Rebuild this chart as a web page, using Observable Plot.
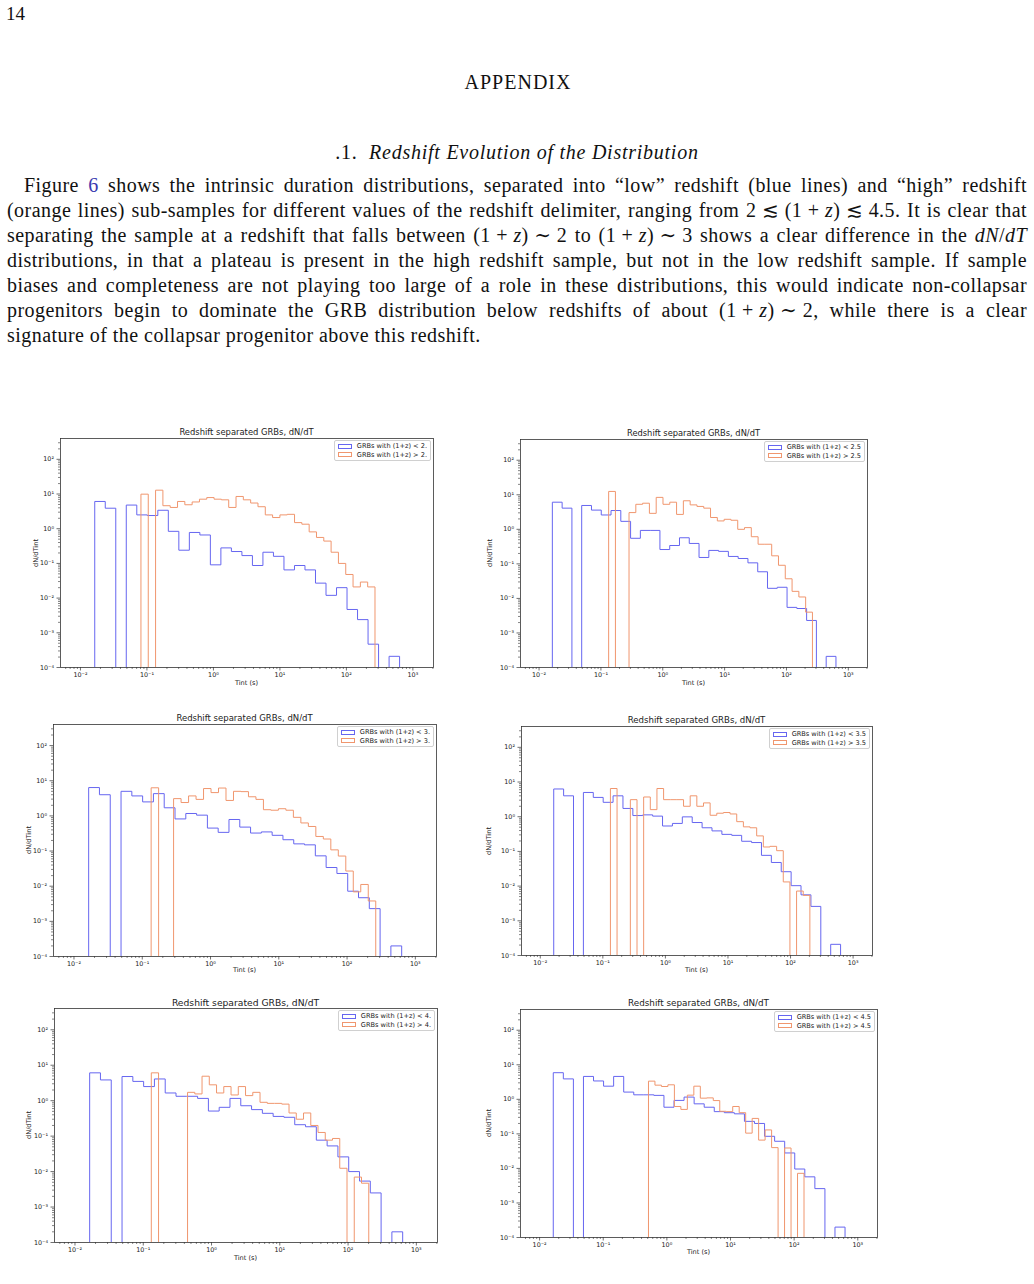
<!DOCTYPE html>
<html><head><meta charset="utf-8">
<script src="https://cdn.jsdelivr.net/npm/d3@7"></script>
<script src="https://cdn.jsdelivr.net/npm/@observablehq/plot@0.6"></script>
<style>
body{margin:0;background:#fff;}
#page{position:relative;width:1034px;height:1284px;overflow:hidden;font-family:"Liberation Serif","DejaVu Serif",serif;color:#111;background:#fff;}
.abs{position:absolute;white-space:nowrap;}
.line{position:absolute;left:7px;width:1020px;height:25px;line-height:25px;font-size:20px;letter-spacing:0.45px;text-align:justify;text-align-last:justify;}
.sans{font-family:"DejaVu Sans",sans-serif;color:#222;letter-spacing:0;}
.leg{position:absolute;background:#fff;border:1px solid #d0d0d0;border-radius:2px;font-family:"DejaVu Sans",sans-serif;color:#222;padding:1px 3px 1px 3px;}
.leg div{white-space:nowrap;display:flex;align-items:center;}
.patch{display:inline-block;width:12px;height:3px;margin-right:5px;}
</style>
</head><body><div id="page"></div>
<script>
// ---------------- data ----------------
const thresholds = ["2.", "2.5", "3.", "3.5", "4.", "4.5"];
const xTickValues = [1e-2, 1e-1, 1e0, 1e1, 1e2, 1e3];
const xTickLabels = ["10\u207B\u00B2", "10\u207B\u00B9", "10\u2070", "10\u00B9", "10\u00B2", "10\u00B3"];
const yTickValues = [1e-4, 1e-3, 1e-2, 1e-1, 1e0, 1e1, 1e2];
const yTickLabels = ["10\u207B\u2074", "10\u207B\u00B3", "10\u207B\u00B2", "10\u207B\u00B9", "10\u2070", "10\u00B9", "10\u00B2"];

// log10 bin range of the low-redshift (blue) histograms, 29 bins
const blueRange = [-1.785, 2.80];
const blue1 = [6.1, 3.9, 0, 4.8, 2.5, 2.4, 3.4, 0.84, 0.24, 0.78, 0.66, 0.091, 0.28, 0.22, 0.168, 0.087, 0.21, 0.16, 0.065, 0.087, 0.065, 0.027, 0.012, 0.020, 0.0047, 0.0024, 0.00047, 0, 0.00021];
const blue2 = [6.1, 4.1, 0, 4.9, 3.6, 2.6, 3.5, 1.7, 0.55, 0.93, 0.93, 0.26, 0.34, 0.57, 0.39, 0.153, 0.245, 0.23, 0.164, 0.143, 0.107, 0.059, 0.0196, 0.021, 0.0055, 0.0051, 0.0023, 0, 0.00021];
const blue3 = [6.4, 4.0, 0, 5.0, 3.7, 2.5, 4.3, 1.7, 0.82, 1.17, 1.05, 0.45, 0.34, 0.79, 0.48, 0.325, 0.35, 0.28, 0.21, 0.16, 0.15, 0.073, 0.034, 0.023, 0.0072, 0.0047, 0.0023, 0, 0.0002];
const blue4 = [6.3, 4.0, 0, 5.0, 3.6, 2.6, 4.0, 1.73, 1.08, 1.13, 1.04, 0.54, 0.64, 0.99, 0.68, 0.48, 0.39, 0.31, 0.29, 0.196, 0.18, 0.077, 0.048, 0.026, 0.0103, 0.0056, 0.0026, 0, 0.00021];
const blue5 = [6.1, 3.85, 0, 4.8, 3.5, 2.5, 4.1, 1.65, 1.33, 1.33, 1.16, 0.51, 0.65, 1.16, 0.72, 0.56, 0.44, 0.36, 0.34, 0.21, 0.184, 0.077, 0.053, 0.026, 0.010, 0.0054, 0.0025, 0, 0.0002];
const blue6 = [5.9, 3.9, 0, 4.6, 3.4, 2.4, 4.6, 1.62, 1.35, 1.35, 1.3, 0.59, 0.93, 1.16, 0.74, 0.59, 0.44, 0.41, 0.38, 0.23, 0.20, 0.085, 0.061, 0.028, 0.0096, 0.0057, 0.0026, 0, 0.0002];

// high-redshift (orange) histograms and their log10 bin ranges
const orange1 = [9.9, 0, 12.9, 4.6, 4.1, 6.1, 4.9, 5.9, 7.1, 7.9, 7.1, 6.8, 4.1, 8.5, 6.8, 5.5, 4.3, 2.5, 2.1, 2.5, 2.6, 1.5, 1.35, 0.81, 0.56, 0.44, 0.21, 0.10, 0.048, 0.021, 0.029, 0.021];
const orange1Range = [-1.09, 2.43];
const orange2 = [12.5, 0, 0, 3.05, 5.3, 5.7, 2.9, 8.4, 5.3, 6.1, 2.7, 6.7, 5.1, 4.6, 4.1, 2.2, 1.75, 1.95, 1.83, 1.0, 1.12, 0.61, 0.37, 0.37, 0.171, 0.091, 0.037, 0.016, 0.011, 0.004];
const orange2Range = [-0.875, 2.42];
const orange3 = [6.3, 0, 0, 3.1, 2.4, 3.7, 2.95, 6.0, 4.6, 6.2, 2.75, 5.0, 4.9, 3.5, 2.95, 1.5, 1.45, 1.6, 1.45, 0.91, 0.63, 0.5, 0.26, 0.22, 0.108, 0.072, 0.027, 0.0069, 0.0112, 0.0038];
const orange3Range = [-0.87, 2.42];
const orange4 = [6.5, 0, 0, 3.1, 0, 3.7, 1.6, 6.5, 3.1, 3.1, 3.1, 2.0, 4.0, 2.0, 2.5, 1.1, 1.26, 1.32, 1.2, 0.72, 0.51, 0.48, 0.28, 0.134, 0.14, 0.105, 0.0132, 0, 0.0072, 0.0054];
const orange4Range = [-0.879, 2.309];
const orange5 = [6.1, 0, 0, 0, 0, 1.72, 1.55, 4.9, 2.8, 1.65, 2.5, 1.45, 2.5, 1.39, 1.72, 0.9, 0.84, 0.84, 0.8, 0.45, 0.30, 0.45, 0.2, 0.127, 0.077, 0.086, 0.0124, 0, 0.007, 0.0047];
const orange5Range = [-0.882, 2.303];
const orange6 = [3.36, 2.57, 2.35, 2.63, 0.62, 0.51, 1.32, 2.4, 1.08, 1.1, 0.92, 0.45, 0.44, 0.62, 0.41, 0.105, 0.28, 0.066, 0.13, 0.04, 0, 0.039, 0, 0.0072];
const orange6Range = [-0.289, 2.155];

// ---------------- layout / style ----------------
const BLUE = "rgb(102,102,240)";
const ORANGE = "rgb(240,150,110)";
const xDomain = [Math.pow(10, -2.3), Math.pow(10, 3.31)];
const yDomain = [1e-4, Math.pow(10, 2.6)];

const charts = [
  {frame: [60, 433, 438, 667], ylx: 36, titleFs: 8.4, xlOff: 16, blue: blue1, orange: orange1, orangeRange: orange1Range},
  {frame: [520, 867, 439, 667], ylx: 490, titleFs: 8.3, xlOff: 16, blue: blue2, orange: orange2, orangeRange: orange2Range},
  {frame: [53, 436, 724, 956], ylx: 29, titleFs: 8.5, xlOff: 14, blue: blue3, orange: orange3, orangeRange: orange3Range},
  {frame: [521, 872, 726, 955], ylx: 489, titleFs: 8.6, xlOff: 15, blue: blue4, orange: orange4, orangeRange: orange4Range},
  {frame: [54, 437, 1008, 1242], ylx: 29, titleFs: 9.2, xlOff: 16, blue: blue5, orange: orange5, orangeRange: orange5Range},
  {frame: [520, 877, 1009, 1237], ylx: 489, titleFs: 8.8, xlOff: 15, blue: blue6, orange: orange6, orangeRange: orange6Range}
];

const page = document.getElementById("page");
function addDiv(html, css, cls) {
  const d = document.createElement("div");
  d.className = cls || "abs";
  d.innerHTML = html;
  Object.assign(d.style, css);
  page.appendChild(d);
  return d;
}

// ---------------- text ----------------
addDiv("14", {left: "6px", top: "3px", fontSize: "19px"});
addDiv("APPENDIX", {left: "518px", top: "82px", fontSize: "20px", transform: "translate(-50%,-50%)", letterSpacing: "1px"});
addDiv(".1.&nbsp;&nbsp;<i>Redshift Evolution of the Distribution</i>", {left: "517px", top: "152px", fontSize: "20px", letterSpacing: "0.75px", transform: "translate(-50%,-50%)"});
const z = "<i>z</i>";
const pz = "(1\u2005+\u2005" + z + ")";
const lines = [
  "Figure <span style='color:#3a3ab0'>6</span> shows the intrinsic duration distributions, separated into \u201Clow\u201D redshift (blue lines) and \u201Chigh\u201D redshift",
  "(orange lines) sub-samples for different values of the redshift delimiter, ranging from 2\u2005\u2272\u2005" + pz + "\u2005\u2272\u20054.5. It is clear that",
  "separating the sample at a redshift that falls between " + pz + "\u2005\u223C\u20052 to " + pz + "\u2005\u223C\u20053 shows a clear difference in the <i>dN</i>/<i>dT</i>",
  "distributions, in that a plateau is present in the high redshift sample, but not in the low redshift sample. If sample",
  "biases and completeness are not playing too large of a role in these distributions, this would indicate non-collapsar",
  "progenitors begin to dominate the GRB distribution below redshifts of about " + pz + "\u2005\u223C\u20052, while there is a clear",
  "signature of the collapsar progenitor above this redshift."
];
lines.forEach((t, i) => {
  const d = addDiv(t, {top: (172.5 + 25 * i) + "px"}, "line");
  if (i === 0) { d.style.left = "24px"; d.style.width = "1003px"; }
  if (i === lines.length - 1) { d.style.textAlignLast = "left"; }
});

// ---------------- charts ----------------
function stepPoints(values, range) {
  const [lo, hi] = range;
  const n = values.length, w = (hi - lo) / n;
  const floor = 1e-8;
  const pts = [{x: Math.pow(10, lo), y: floor}];
  values.forEach((v, i) => {
    const y = v > 0 ? v : floor;
    pts.push({x: Math.pow(10, lo + i * w), y}, {x: Math.pow(10, lo + (i + 1) * w), y});
  });
  pts.push({x: Math.pow(10, hi), y: floor});
  return pts;
}
function minorTicks(lo, hi) {
  const out = [];
  for (let e = Math.floor(lo) - 1; e <= Math.ceil(hi); e++)
    for (let m = 2; m <= 9; m++) {
      const v = m * Math.pow(10, e);
      if (v >= Math.pow(10, lo) && v <= Math.pow(10, hi)) out.push(v);
    }
  return out;
}
const xMinor = minorTicks(-2.3, 3.31);
const yMinor = minorTicks(-4, 2.6);
const xLab = d => xTickLabels[xTickValues.findIndex(v => Math.abs(Math.log10(v) - Math.log10(d)) < 1e-6)];
const yLab = d => yTickLabels[yTickValues.findIndex(v => Math.abs(Math.log10(v) - Math.log10(d)) < 1e-6)];

charts.forEach((c, k) => {
  const [x0, x1, y0, y1] = c.frame;
  const ml = 40, mr = 4, mt = 4, mb = 16;
  const W = x1 - x0 + ml + mr, H = y1 - y0 + mt + mb;
  const svg = Plot.plot({
    width: W, height: H,
    marginLeft: ml, marginRight: mr, marginTop: mt, marginBottom: mb,
    x: {type: "log", domain: xDomain, label: null},
    y: {type: "log", domain: yDomain, label: null},
    style: {fontFamily: "DejaVu Sans", fontSize: "6.4px", color: "#222", background: "transparent", overflow: "visible"},
    marks: [
      Plot.line(stepPoints(c.blue, blueRange), {x: "x", y: "y", stroke: BLUE, strokeWidth: 1.0, clip: true}),
      Plot.line(stepPoints(c.orange, c.orangeRange), {x: "x", y: "y", stroke: ORANGE, strokeWidth: 1.0, clip: true}),
      Plot.axisX({ticks: xMinor, tickSize: 2, tickFormat: () => "", stroke: "#333", strokeWidth: 0.6}),
      Plot.axisX({ticks: xTickValues, tickSize: 3.5, tickPadding: 1.5, tickFormat: xLab, stroke: "#333", strokeWidth: 0.7, fontSize: 6.4}),
      Plot.axisY({ticks: yMinor, tickSize: 2, tickFormat: () => "", stroke: "#333", strokeWidth: 0.6}),
      Plot.axisY({ticks: yTickValues, tickSize: 3.5, tickPadding: 3, tickFormat: yLab, stroke: "#333", strokeWidth: 0.7, fontSize: 6.4}),
      Plot.frame({stroke: "#333", strokeWidth: 0.8})
    ]
  });
  svg.style.position = "absolute";
  svg.style.left = (x0 - ml) + "px";
  svg.style.top = (y0 - mt) + "px";
  page.appendChild(svg);

  const cx = (x0 + x1) / 2;
  addDiv("Redshift separated GRBs, dN/dT", {left: cx + "px", top: (y0 - 6.5) + "px", fontSize: c.titleFs + "px", transform: "translate(-50%,-50%)"}, "abs sans");
  addDiv("Tint (s)", {left: cx + "px", top: (y1 + c.xlOff) + "px", fontSize: "6.6px", transform: "translate(-50%,-50%)"}, "abs sans");
  addDiv("dN/dTint", {left: c.ylx + "px", top: ((y0 + y1) / 2) + "px", fontSize: "6.6px", transform: "translate(-50%,-50%) rotate(-90deg)"}, "abs sans");
  addDiv(
    `<div><span class="patch" style="border:1px solid ${BLUE}"></span>GRBs with (1+z) &lt; ${thresholds[k]}</div>` +
    `<div><span class="patch" style="border:1px solid ${ORANGE}"></span>GRBs with (1+z) &gt; ${thresholds[k]}</div>`,
    {right: (1034 - x1 + 2) + "px", top: (y0 + 2) + "px", fontSize: "6.6px", lineHeight: "8.6px"}, "leg");
});
</script>
</body></html>
